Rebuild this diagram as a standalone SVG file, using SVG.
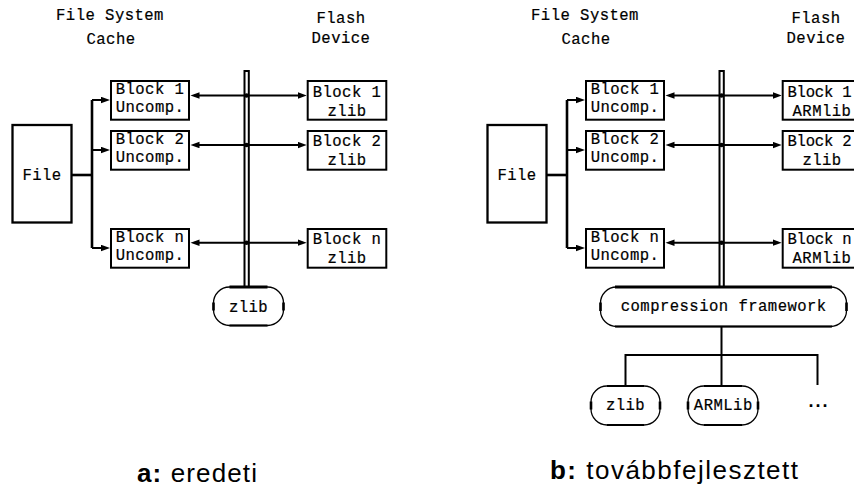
<svg xmlns="http://www.w3.org/2000/svg" width="854" height="490" viewBox="0 0 854 490">
<style>
.t{font-family:"Liberation Mono","DejaVu Sans Mono",monospace;font-size:15.6px;letter-spacing:0.45px;fill:#000;stroke:#000;stroke-width:0.2;text-anchor:middle}
.ts{text-anchor:start}
.cap{font-family:"Liberation Sans","DejaVu Sans",sans-serif;font-size:26px;fill:#000}
.box{fill:#fff;stroke:#000;stroke-width:2}
.file{fill:#fff;stroke:#000;stroke-width:2.3}
.rr{fill:#fff;stroke:#000;stroke-width:1.3}
.thk{stroke:#000;stroke-width:3;fill:none}
.mid{stroke:#000;stroke-width:2;fill:none}
.bus{fill:#fff;stroke:#000;stroke-width:2}
.ln{stroke:#000;stroke-width:2;fill:none}
.lnb{stroke:#000;stroke-width:2.6;fill:none}
.dot{fill:#000}
</style>
<defs>
<marker id="ah" markerUnits="userSpaceOnUse" markerWidth="10" markerHeight="8" refX="5" refY="3.25" orient="auto-start-reverse">
<path d="M0,0 L9,3.25 L0,6.5 Z" fill="#000"/>
</marker>
</defs>

<!-- ===== Diagram a ===== -->
<g id="hdr-a">
<text class="t" x="110" y="20">File System</text>
<text class="t" x="111" y="44">Cache</text>
<text class="t" x="341" y="23">Flash</text>
<text class="t" x="341" y="42.5">Device</text>
</g>

<g id="connectors-a">
<rect class="bus" x="244.5" y="71" width="4.3" height="216"/>
<path class="lnb" d="M72,175 H92"/>
<path class="lnb" d="M92,100 V248"/>
<line class="ln" x1="92" y1="100" x2="106" y2="100" marker-end="url(#ah)"/>
<line class="ln" x1="92" y1="150" x2="106" y2="150" marker-end="url(#ah)"/>
<line class="ln" x1="92" y1="248" x2="106" y2="248" marker-end="url(#ah)"/>
<line class="ln" x1="194.5" y1="95.5" x2="302.7" y2="95.5" marker-start="url(#ah)" marker-end="url(#ah)"/>
<line class="ln" x1="194.5" y1="145" x2="302.7" y2="145" marker-start="url(#ah)" marker-end="url(#ah)"/>
<line class="ln" x1="194.5" y1="242.7" x2="302.7" y2="242.7" marker-start="url(#ah)" marker-end="url(#ah)"/>
<circle class="dot" cx="246.6" cy="95.5" r="2.2"/>
<circle class="dot" cx="246.6" cy="145" r="2.2"/>
<circle class="dot" cx="246.6" cy="242.7" r="2.2"/>
</g>

<g id="file-a">
<rect class="file" x="12.5" y="125" width="59" height="97.5"/>
<text class="t" x="42" y="180">File</text>
</g>

<g id="cache1-a">
<rect class="box" x="111" y="81" width="78" height="38.7"/>
<text class="t" x="150" y="94.3">Block 1</text>
<text class="t" x="150" y="112.2">Uncomp.</text>
</g>
<g id="cache2-a">
<rect class="box" x="111" y="131" width="78" height="38.7"/>
<text class="t" x="150" y="144">Block 2</text>
<text class="t" x="150" y="161.9">Uncomp.</text>
</g>
<g id="cachen-a">
<rect class="box" x="111" y="229" width="78" height="38.7"/>
<text class="t" x="150" y="242.3">Block n</text>
<text class="t" x="150" y="260.2">Uncomp.</text>
</g>

<g id="flash1-a">
<rect class="box" x="307.7" y="81" width="78.6" height="38.7"/>
<text class="t" x="347" y="96.5">Block 1</text>
<text class="t" x="347" y="115.5">zlib</text>
</g>
<g id="flash2-a">
<rect class="box" x="307.7" y="131" width="78.6" height="38.7"/>
<text class="t" x="347" y="146">Block 2</text>
<text class="t" x="347" y="165">zlib</text>
</g>
<g id="flashn-a">
<rect class="box" x="307.7" y="229" width="78.6" height="38.7"/>
<text class="t" x="347" y="244">Block n</text>
<text class="t" x="347" y="263">zlib</text>
</g>

<g id="zlib-a">
<rect class="rr" x="213.5" y="287" width="70" height="38.5" rx="16" ry="16"/>
<path class="thk" d="M229.5,287 H267.5"/>
<path class="mid" d="M229.5,325.5 H267.5"/>
<path class="lnb" d="M213.5,302.5 V310.5 M283.5,302.5 V310.5"/>
<text class="t" x="248.5" y="312">zlib</text>
</g>

<text class="cap" x="137" y="482" textLength="120" lengthAdjust="spacing"><tspan font-weight="bold">a:</tspan> eredeti</text>

<!-- ===== Diagram b ===== -->
<g id="hdr-b">
<text class="t" x="585" y="20">File System</text>
<text class="t" x="586" y="44">Cache</text>
<text class="t" x="816" y="23">Flash</text>
<text class="t" x="816" y="42.5">Device</text>
</g>

<g id="connectors-b">
<rect class="bus" x="719.5" y="71" width="4.3" height="216"/>
<path class="lnb" d="M547,175 H567"/>
<path class="lnb" d="M567,100 V248"/>
<line class="ln" x1="567" y1="100" x2="581" y2="100" marker-end="url(#ah)"/>
<line class="ln" x1="567" y1="150" x2="581" y2="150" marker-end="url(#ah)"/>
<line class="ln" x1="567" y1="248" x2="581" y2="248" marker-end="url(#ah)"/>
<line class="ln" x1="669.5" y1="95.5" x2="777.7" y2="95.5" marker-start="url(#ah)" marker-end="url(#ah)"/>
<line class="ln" x1="669.5" y1="145" x2="777.7" y2="145" marker-start="url(#ah)" marker-end="url(#ah)"/>
<line class="ln" x1="669.5" y1="242.7" x2="777.7" y2="242.7" marker-start="url(#ah)" marker-end="url(#ah)"/>
<circle class="dot" cx="721.6" cy="95.5" r="2.2"/>
<circle class="dot" cx="721.6" cy="145" r="2.2"/>
<circle class="dot" cx="721.6" cy="242.7" r="2.2"/>
<path class="ln" d="M721.5,326.5 V355 M625.5,355 H817.5 M625.5,354 V386 M721.5,355 V386 M817.5,354 V385"/>
</g>

<g id="file-b">
<rect class="file" x="487.5" y="125" width="59" height="97.5"/>
<text class="t" x="517" y="180">File</text>
</g>

<g id="cache1-b">
<rect class="box" x="586" y="81" width="78" height="38.7"/>
<text class="t" x="625" y="94.3">Block 1</text>
<text class="t" x="625" y="112.2">Uncomp.</text>
</g>
<g id="cache2-b">
<rect class="box" x="586" y="131" width="78" height="38.7"/>
<text class="t" x="625" y="144">Block 2</text>
<text class="t" x="625" y="161.9">Uncomp.</text>
</g>
<g id="cachen-b">
<rect class="box" x="586" y="229" width="78" height="38.7"/>
<text class="t" x="625" y="242.3">Block n</text>
<text class="t" x="625" y="260.2">Uncomp.</text>
</g>

<g id="flash1-b">
<rect class="box" x="782.7" y="81" width="78.6" height="38.7"/>
<text class="t ts" x="787.5" y="96.5" textLength="64.5" lengthAdjust="spacing">Block 1</text>
<text class="t" x="822" y="115.5">ARMlib</text>
</g>
<g id="flash2-b">
<rect class="box" x="782.7" y="131" width="78.6" height="38.7"/>
<text class="t ts" x="787.5" y="146" textLength="64.5" lengthAdjust="spacing">Block 2</text>
<text class="t" x="822" y="165">zlib</text>
</g>
<g id="flashn-b">
<rect class="box" x="782.7" y="229" width="78.6" height="38.7"/>
<text class="t ts" x="787.5" y="244" textLength="64.5" lengthAdjust="spacing">Block n</text>
<text class="t" x="822" y="263">ARMlib</text>
</g>

<g id="framework-b">
<rect class="rr" x="600.5" y="287" width="246" height="39.5" rx="16" ry="16"/>
<path class="thk" d="M615,287 H832"/>
<path class="mid" d="M615,326.5 H832"/>
<path class="lnb" d="M600.5,302.5 V311 M846.5,302.5 V311"/>
<text class="t" x="723.7" y="311">compression framework</text>
</g>

<g id="zlib-b">
<rect class="rr" x="591" y="386" width="69" height="39" rx="16" ry="16"/>
<path class="mid" d="M607,386 H644 M607,425 H644"/>
<path class="lnb" d="M591,401.5 V409.5 M660,401.5 V409.5"/>
<text class="t" x="625.5" y="410">zlib</text>
</g>

<g id="armlib-b">
<rect class="rr" x="688" y="386" width="70" height="39" rx="16" ry="16"/>
<path class="mid" d="M704,386 H742 M704,425 H742"/>
<path class="lnb" d="M688,401.5 V409.5 M758,401.5 V409.5"/>
<text class="t" x="723.3" y="410">ARMLib</text>
</g>

<g id="more-b">
<text x="808.5" y="407" style="font-family:'Liberation Sans',sans-serif;font-size:18px;font-weight:bold;letter-spacing:2px">...</text>
</g>

<text class="cap" x="550" y="479" textLength="248" lengthAdjust="spacing"><tspan font-weight="bold">b:</tspan> továbbfejlesztett</text>
</svg>
